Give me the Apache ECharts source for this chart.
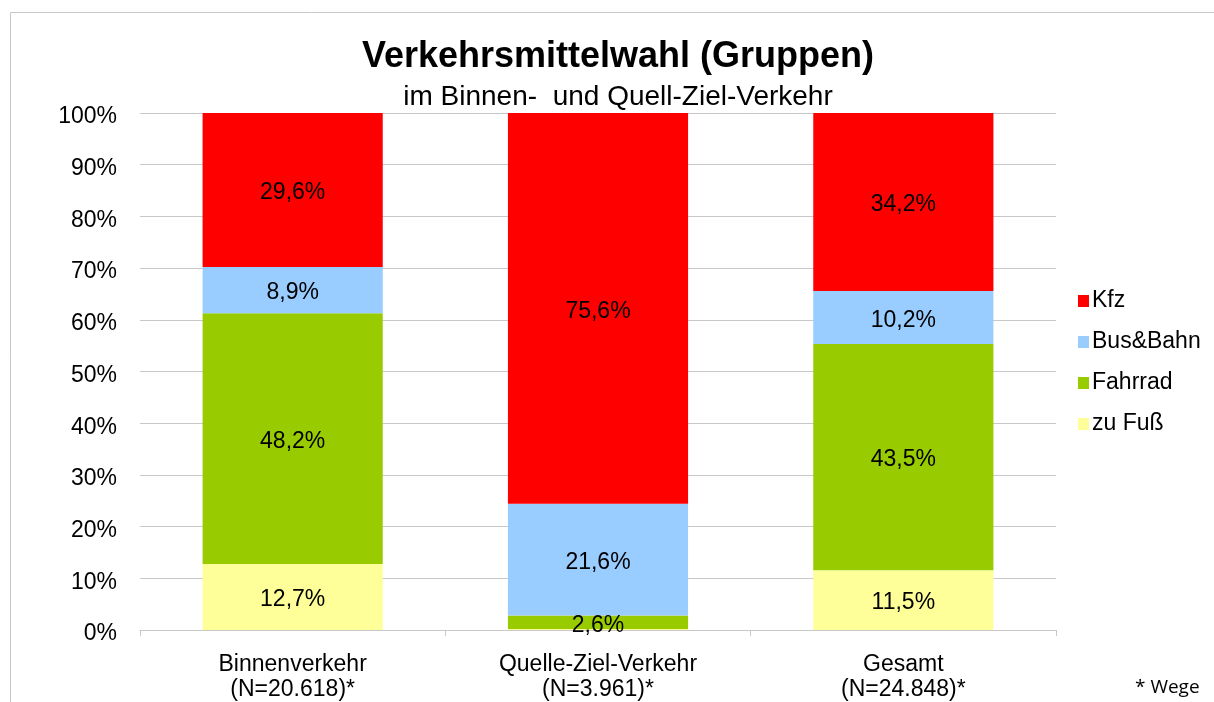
<!DOCTYPE html>
<html lang="de">
  <head>
    <meta charset="UTF-8" />
    <title>Verkehrsmittelwahl (Gruppen)</title>
    <script src="https://cdn.jsdelivr.net/npm/echarts@6/dist/echarts.min.js"></script>
    <style>
      html, body { margin: 0; padding: 0; background: #fff; }
      #main { width: 1214px; height: 702px; }
    </style>
  </head>
  <body>
    <div id="main"></div>
    <script type="text/javascript">
      // Daten (Anteile in %, wie beschriftet)
      var categories = ["Binnenverkehr\n(N=20.618)*", "Quelle-Ziel-Verkehr\n(N=3.961)*", "Gesamt\n(N=24.848)*"];
      var zuFuss = [12.7, 0.2, 11.5];
      var fahrrad = [48.2, 2.6, 43.5];
      var busBahn = [8.9, 21.6, 10.2];
      var kfz = [29.6, 75.6, 34.2];
      var yTicks = [0, 10, 20, 30, 40, 50, 60, 70, 80, 90, 100];

      var font = "Liberation Sans, Arial, sans-serif";

      // 100%-Stapel: jede Säule auf ihre Summe normieren
      var totals = categories.map(function (c, i) {
        return zuFuss[i] + fahrrad[i] + busBahn[i] + kfz[i];
      });

      function fmt(v) {
        return v.toFixed(1).replace(".", ",") + "%";
      }

      function makeSeries(name, data, color) {
        return {
          name: name,
          type: "bar",
          stack: "total",
          barWidth: "59%",
          data: data.map(function (v, i) {
            return { value: (v / totals[i]) * 100, raw: v };
          }),
          itemStyle: { color: color },
          label: {
            show: true,
            position: "inside",
            offset: [0, 3],
            color: "#000",
            fontFamily: font,
            fontSize: 23,
            formatter: function (p) {
              return p.data.raw < 1 ? "" : fmt(p.data.raw);
            }
          }
        };
      }

      var myChart = echarts.init(document.getElementById("main"));
      myChart.setOption({
        animation: false,
        backgroundColor: "#fff",
        title: [
          {
            text: "Verkehrsmittelwahl (Gruppen)",
            left: 613,
            top: 34,
            textAlign: "center",
            textStyle: { fontFamily: font, fontSize: 36, fontWeight: "bold", color: "#000" }
          },
          {
            text: "im Binnen-  und Quell-Ziel-Verkehr",
            left: 613,
            top: 78,
            textAlign: "center",
            textStyle: { fontFamily: font, fontSize: 28, fontWeight: "normal", color: "#000" }
          },
          {
            text: "* Wege",
            left: 1130,
            top: 673,
            textStyle: { fontFamily: "Open Sans, sans-serif", fontSize: 19, fontWeight: "normal", color: "#000" }
          }
        ],
        graphic: [
          {
            type: "rect",
            shape: { x: 10.5, y: 12.5, width: 1300, height: 800 },
            style: { fill: "none", stroke: "#c8c8c8", lineWidth: 1 },
            silent: true
          }
        ],
        legend: {
          orient: "vertical",
          left: 1073,
          top: 284,
          itemWidth: 11,
          itemHeight: 12,
          itemGap: 17,
          icon: "rect",
          data: ["Kfz", "Bus&Bahn", "Fahrrad", "zu Fuß"],
          textStyle: { fontFamily: font, fontSize: 23, lineHeight: 24, color: "#000", padding: [0, 0, 0, -2] }
        },
        grid: { left: 140, right: 158, top: 113, bottom: 72, containLabel: false },
        xAxis: {
          type: "category",
          data: categories,
          axisLine: { lineStyle: { color: "#c8c8c8", width: 1 } },
          axisTick: { show: true, alignWithLabel: false, length: 6, lineStyle: { color: "#c8c8c8" } },
          axisLabel: { color: "#000", fontFamily: font, fontSize: 23, lineHeight: 25, margin: 22 }
        },
        yAxis: {
          type: "value",
          min: 0,
          max: 100,
          interval: 10,
          axisLine: { show: false },
          axisTick: { show: false },
          splitLine: { lineStyle: { color: "#c8c8c8", width: 1 } },
          axisLabel: {
            color: "#000",
            fontFamily: font,
            fontSize: 23,
            margin: 23,
            formatter: function (v) {
              return yTicks.indexOf(v) >= 0 ? "{a|" + v + "%}" : "";
            },
            rich: {
              a: { fontFamily: font, fontSize: 23, color: "#000", padding: [8, 0, 0, 0] }
            }
          }
        },
        series: [
          makeSeries("zu Fuß", zuFuss, "#ffff99"),
          makeSeries("Fahrrad", fahrrad, "#99cc00"),
          makeSeries("Bus&Bahn", busBahn, "#99ccff"),
          makeSeries("Kfz", kfz, "#ff0000")
        ]
      });
    </script>
  </body>
</html>
